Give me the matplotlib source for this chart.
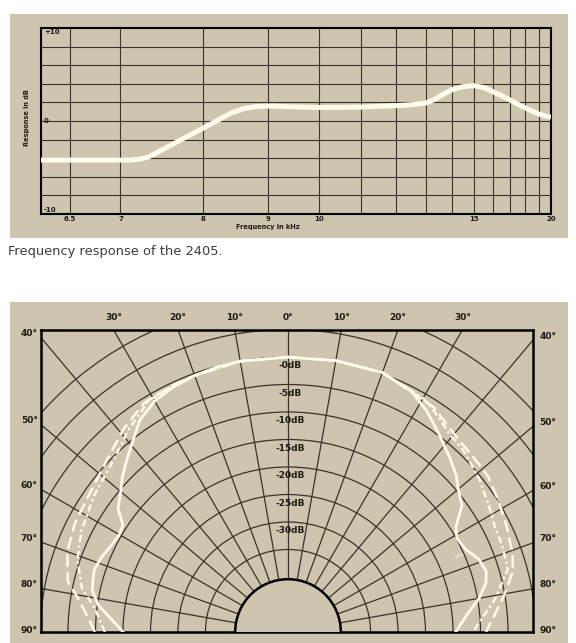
import numpy as np
import matplotlib
matplotlib.use('Agg')
import matplotlib.pyplot as plt
import matplotlib.patches as patches

# ---- frequency response of the 2405 (kHz, dB) ----
freq_khz = [6.25, 7.0, 7.1, 7.2, 7.3, 7.4, 7.5, 7.6, 7.7, 7.8, 7.9, 8.0, 8.2, 8.4, 8.6,
            8.8, 9.0, 9.3, 9.6, 10, 11, 12, 12.5, 13, 13.3, 13.6, 14, 14.5, 15, 15.5,
            16, 16.5, 17, 17.5, 18, 18.5, 19, 19.5, 20]
response_db = [-4.2, -4.2, -4.2, -4.12, -3.9, -3.43, -2.96, -2.49, -2.04, -1.6, -1.17,
               -0.75, 0.05, 0.85, 1.33, 1.55, 1.6, 1.55, 1.5, 1.45, 1.5, 1.65, 1.75, 1.95,
               2.3, 2.8, 3.35, 3.7, 3.8, 3.6, 3.15, 2.7, 2.25, 1.8, 1.4, 1.05, 0.75, 0.55,
               0.4]
freq_grid = [6.5, 7, 8, 9, 10, 11, 12, 13, 14, 15, 16, 17, 18, 19]
freq_ticks = [6.5, 7, 8, 9, 10, 15, 20]
freq_tick_labels = ['6.5', '7', '8', '9', '10', '15', '20']
db_grid = [-8, -6, -4, -2, 0, 2, 4, 6, 8]

# ---- horizontal polar response (angle in degrees, left negative; level in dB) ----
solid_angles = [-90, -86, -82, -78, -75, -72, -68, -64, -60, -57, -54, -50, -47, -44, -40,
                -35, -30, -25, -20, -15, -10, 0, 10, 20, 27, 32, 37, 43, 47, 50, 54, 58,
                61, 65, 69, 73, 76, 80, 84, 90]
solid_db = [-20, -17.9, -15.2, -13.6, -13.3, -13.0, -13.5, -14.2, -14.6, -14.2, -11.8, -10.3,
            -8.8, -7.5, -5.7, -3.0, -1.5, -0.8, -0.4, -0.1, 0, 0, 0.1, 0.2, -0.8, -2.5, -4.6,
            -6.8, -8.2, -9.6, -10.9, -14.0, -14.9, -14.4, -12.9, -12.3, -12.9, -14.7, -17.1, -19.5]

dashed_angles = [-90, -86, -81, -77, -70, -63, -56, -47, -39, -32, -25, -20, -10, 0, 10, 20,
                 29, 33, 37, 42, 47, 52, 58, 64, 71, 75, 81, 86, 90]
dashed_db = [-14.9, -13.6, -11.4, -8.9, -7.3, -6.5, -6.1, -4.7, -2.5, -0.8, -0.5, -0.4, 0, 0,
             0.1, 0.2, -1.1, -1.3, -2.4, -3.3, -3.7, -3.9, -4.9, -5.8, -6.8, -7.7, -10.4,
             -12.6, -14.0]

dashdot_angles = [-90, -83, -78, -71, -64, -55, -46, -38, -31, -25, -20, -10, 0, 10, 20,
                  30, 34, 39, 44, 51, 57, 63, 68, 74, 81, 90]
dashdot_db = [-16.7, -14.6, -11.7, -9.5, -8.2, -6.9, -5.6, -3.1, -0.9, -0.6, -0.4, 0, 0,
              0.1, 0.2, -0.9, -2.0, -3.5, -4.1, -5.4, -6.7, -7.8, -8.0, -8.4, -11.9, -16.4]

level_labels = [0, -5, -10, -15, -20, -25, -30]
top_angles = [-30, -20, -10, 0, 10, 20, 30]
side_angles = [40, 50, 60, 70, 80, 90]

beige = '#cdc5ad'
grid_c = '#3a3329'
ink = '#1d1a15'
curve_c = '#fffbea'

W, H = 576, 643
fig = plt.figure(figsize=(W / 100, H / 100), dpi=100)
fig.patch.set_facecolor('white')


def box(x0, y0, x1, y1):
    # pixel box (top-left origin) -> figure fraction rect
    return [x0 / W, 1 - y1 / H, (x1 - x0) / W, (y1 - y0) / H]


for r in (box(10, 14, 568, 238), box(10, 302, 568, 643)):
    fig.patches.append(patches.Rectangle((r[0], r[1]), r[2], r[3], transform=fig.transFigure,
                                         facecolor=beige, edgecolor='none', zorder=-5))

# ================= top: frequency response =================
ax = fig.add_axes(box(41, 28, 551, 214))
ax.set_facecolor(beige)
with np.errstate(divide='ignore'):
    ax.set_xscale('function', functions=(lambda f: -1.0 / np.asarray(f),
                                         lambda v: -1.0 / np.asarray(v)))
ax.set_xlim(6.25, 20)
ax.set_ylim(-10, 10)
ax.set_xticks([])
ax.set_yticks([])
ax.minorticks_off()
for f in freq_grid:
    ax.axvline(f, color=grid_c, lw=0.8, zorder=1)
for d in db_grid:
    ax.axhline(d, color=grid_c, lw=0.8, zorder=1)
for s in ax.spines.values():
    s.set_linewidth(1.5)
    s.set_color('black')
ax.plot(freq_khz, response_db, color=curve_c, lw=3.6, solid_joinstyle='round',
        solid_capstyle='butt', zorder=3)

ytr = ax.get_yaxis_transform()
for yv, lab in [(9.6, '+10'), (0, '0'), (-9.6, '-10')]:
    ax.text(0.006, yv, lab, transform=ytr, fontsize=5, fontweight='bold', color=ink,
            ha='left', va='center')
xtr = ax.get_xaxis_transform()
for fv, lab in zip(freq_ticks, freq_tick_labels):
    ax.text(fv, -0.028, lab, transform=xtr, fontsize=5, fontweight='bold', color=ink,
            ha='center', va='center', clip_on=False)
fig.text(268 / W, 1 - 227 / H, 'Frequency in kHz', fontsize=4.8, fontweight='bold',
         color=ink, ha='center', va='center')
fig.text(27 / W, 1 - 118 / H, 'Response in dB', fontsize=4.8, fontweight='bold',
         color=ink, ha='center', va='center', rotation=90)

fig.text(8 / W, 1 - 251 / H, 'Frequency response of the 2405.', fontsize=9.4,
         color='#3d3d3d', ha='left', va='center')

# ================= bottom: polar response =================
# radius unit: r = level in dB + 50  (0 dB at r = 50, inner hub at -40 dB)
px = 5.5
ax2 = fig.add_axes(box(41, 330, 533, 632))
ax2.set_facecolor(beige)
ax2.set_xlim(-247 / px, 245 / px)
ax2.set_ylim(0, 302 / px)
ax2.set_xticks([])
ax2.set_yticks([])
for s in ax2.spines.values():
    s.set_linewidth(1.8)
    s.set_color('black')

hub_r = 9.6
for lev in range(-35, 15, 5):
    ax2.add_patch(patches.Arc((0, 0), 2 * (lev + 50), 2 * (lev + 50), theta1=0, theta2=180,
                              color=grid_c, lw=0.9, zorder=1))
for a in range(-80, 90, 10):
    t = np.radians(a)
    ax2.plot([hub_r * np.sin(t), 80 * np.sin(t)], [hub_r * np.cos(t), 80 * np.cos(t)],
             color=grid_c, lw=0.9, zorder=1)
ax2.add_patch(patches.Circle((0, 0), hub_r, facecolor=beige, edgecolor='black', lw=1.8,
                             zorder=4))


def polar_xy(angles, levels):
    t = np.radians(angles)
    r = np.asarray(levels) + 50
    return r * np.sin(t), r * np.cos(t)


x, y = polar_xy(dashed_angles, dashed_db)
ax2.plot(x, y, color=curve_c, lw=1.8, ls=(0, (5, 2.2)), zorder=3)
x, y = polar_xy(dashdot_angles, dashdot_db)
ax2.plot(x, y, color=curve_c, lw=1.7, ls=(0, (3, 1.4, 1, 1.4)), zorder=3)
x, y = polar_xy(solid_angles, solid_db)
ax2.plot(x, y, color=curve_c, lw=2.0, solid_joinstyle='round', zorder=3)

for lev in level_labels:
    ax2.text(0.35, lev + 50 - 1.55, '-%ddB' % abs(lev), fontsize=6.5, fontweight='bold',
             color=ink, ha='center', va='center', zorder=5)

ytop = 302 / px
for a in top_angles:
    ax2.text(ytop * np.tan(np.radians(a)), ytop + 2.2, '%d°' % abs(a), fontsize=6.5,
             fontweight='bold', color=ink, ha='center', va='center', clip_on=False)
for a in side_angles:
    yy = 247 / px / np.tan(np.radians(a)) + (0.7 if a < 90 else 0.2)
    ax2.text(-247 / px - 0.6, yy, '%d°' % a, fontsize=6.5, fontweight='bold', color=ink,
             ha='right', va='center', clip_on=False)
    yy = 245 / px / np.tan(np.radians(a)) + (0.7 if a < 90 else 0.2)
    ax2.text(245 / px + 1.2, yy, '%d°' % a, fontsize=6.5, fontweight='bold', color=ink,
             ha='left', va='center', clip_on=False)

for lab, ang, lev, rot in [('8k', 58, -5.3, -62), ('12.5k', 59, -7.2, -70),
                           ('16k', 66, -15.8, 25)]:
    xx, yy = polar_xy([ang], [lev])
    ax2.text(xx[0], yy[0], lab, fontsize=4, color=curve_c, alpha=0.85, rotation=rot,
             ha='center', va='center', zorder=5)

fig.savefig('out.png', dpi=100, facecolor='white')
